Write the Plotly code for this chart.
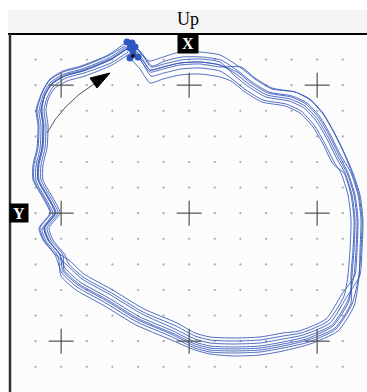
import numpy as np
import plotly.graph_objects as go

# Arena coordinates (px-like units from the top-left corner of the arena, y downward)
loop_a_x = [117,128,139,153,170,190,210,231,245,262,285,300,313,323,333,342,349,352,351,349,342,326,299,273,250,223,200,185,160,127,94,67,52,45,33,29,40,33,23,23,27,28,26,33,40,53,71,98,114]
loop_a_y = [8,16,27,23,18,18,21,34,45,55,58,66,80,97,117,139,161,186,216,241,270,295,308,314,318,319,318,314,302,288,268,253,239,221,206,194,179,164,146,131,114,91,76,56,45,37,32,21,10]

loop_b_x = [122,131,142,155,172,192,211,228,242,259,282,297,310,320,330,341,348,351,350,349,344,328,300,273,250,223,200,185,159,126,93,66,51,48,36,32,43,36,26,26,30,31,29,34,41,54,72,99,116]
loop_b_y = [9,18,32,27,23,23,26,37,48,58,62,69,83,100,120,139,161,186,216,243,272,297,310,317,321,322,320,316,305,291,271,256,242,222,207,195,180,165,147,132,115,92,77,59,48,40,35,24,13]

loop_c_x = [125,133,141,154,171,190,210,225,239,256,279,294,307,317,327,335,342,345,344,342,339,323,296,273,250,223,200,185,162,129,96,69,54,53,41,37,48,41,31,31,35,36,34,37,43,56,74,101,118]
loop_c_y = [13,22,33,30,26,25,28,42,53,63,67,74,88,105,125,139,161,186,216,241,267,292,305,310,314,315,314,310,299,285,265,250,236,221,206,194,179,164,146,131,114,91,76,64,53,44,39,29,18]

loop_d_x = [120,129,140,153,170,190,210,231,245,262,285,300,313,323,333,343,350,353,352,350,336,320,293,273,250,223,200,185,165,132,99,72,57,46,34,30,41,34,24,24,28,29,27,33,40,53,71,98,115]
loop_d_y = [14,24,38,35,31,30,33,33,44,54,58,65,79,96,116,139,161,186,216,241,264,289,301,305,309,310,309,305,295,280,260,245,231,221,206,194,179,164,146,131,114,91,76,57,46,38,33,22,12]

loop_e_x = [123,132,141,154,171,190,210,222,236,253,276,291,304,314,324,331,338,341,340,338,334,318,291,273,250,223,200,185,166,133,100,73,58,55,43,39,50,43,33,33,37,38,36,38,44,57,75,102,119]
loop_e_y = [19,28,42,39,35,34,37,45,56,66,70,77,91,108,128,139,161,186,216,241,262,287,299,302,306,307,306,302,292,278,258,243,229,221,206,194,179,164,146,131,114,91,76,66,55,47,42,31,20]

loop_f_x = [120,130,140,153,170,190,210,221,235,252,275,290,303,313,323,334,341,344,343,341,341,325,298,273,250,223,200,185,161,128,95,68,53,50,38,34,45,38,28,28,32,33,31,35,42,55,73,100,117]
loop_f_y = [24,35,49,45,41,40,43,47,58,68,72,79,93,110,130,139,161,186,216,241,269,294,306,312,316,317,316,312,300,286,266,251,237,221,206,194,179,164,146,131,114,91,76,61,50,42,37,26,15]

loop_g_x = [128,134,140,153,170,190,210,227,241,258,281,296,309,319,329,338,345,348,347,345,332,316,289,273,250,223,200,185,167,134,101,74,59,51,39,35,46,39,29,29,33,34,32,35,42,55,73,100,117]
loop_g_y = [23,28,36,33,29,28,31,38,49,59,63,70,84,101,121,139,161,186,216,241,260,285,297,299,303,304,303,299,289,275,255,240,226,221,206,194,179,164,146,131,114,91,76,60,49,41,36,25,14]

loop_h_x = [120,130,140,153,170,190,210,226,240,257,280,295,308,318,328,337,344,347,346,344,338,322,295,273,250,223,200,185,163,130,97,70,55,50,38,34,45,38,28,28,32,33,31,35,42,55,73,100,117]
loop_h_y = [12,21,36,33,29,28,31,40,51,61,65,72,86,103,123,139,161,186,216,241,266,291,303,308,312,313,312,308,297,283,263,248,234,221,206,194,179,164,146,131,114,91,76,61,50,42,37,26,15]

loops = [(loop_a_x, loop_a_y), (loop_b_x, loop_b_y), (loop_c_x, loop_c_y), (loop_d_x, loop_d_y),
         (loop_e_x, loop_e_y), (loop_f_x, loop_f_y), (loop_g_x, loop_g_y), (loop_h_x, loop_h_y)]

start_x = [117, 122, 125, 120, 123, 120, 128]
start_y = [8, 9, 13, 14, 19, 24, 23]
end_x = [123]
end_y = [22]

ARENA_W, ARENA_H = 357, 358
GRID = 25.6
LINE_COLOR = "rgba(50,85,185,0.85)"

fig = go.Figure()

# dot grid
gx, gy = np.meshgrid(np.arange(1, 14) * GRID, np.arange(1, 14) * GRID)
fig.add_trace(go.Scatter(x=gx.ravel(), y=gy.ravel(), mode="markers",
                         marker=dict(size=2.2, color="#a8a8a8"), hoverinfo="skip", showlegend=False))

shapes = []
# crosses
for cx in (2, 7, 12):
    for cy in (2, 7, 12):
        X, Y = cx * GRID, cy * GRID
        shapes.append(dict(type="line", xref="x", yref="y", x0=X - 12.5, x1=X + 12.5, y0=Y, y1=Y,
                           line=dict(color="rgba(90,90,90,0.8)", width=1.6)))
        shapes.append(dict(type="line", xref="x", yref="y", x0=X, x1=X, y0=Y - 12.5, y1=Y + 12.5,
                           line=dict(color="rgba(90,90,90,0.8)", width=1.6)))

for lx, ly in loops:
    fig.add_trace(go.Scatter(x=lx, y=ly, mode="lines",
                             line=dict(color=LINE_COLOR, width=1, shape="spline", smoothing=0.6),
                             hoverinfo="skip", showlegend=False))

fig.add_trace(go.Scatter(x=start_x, y=start_y, mode="markers",
                         marker=dict(size=7, color="#2f57c2"), showlegend=False, hoverinfo="skip"))
fig.add_trace(go.Scatter(x=end_x, y=end_y, mode="markers",
                         marker=dict(size=4, color="#111"), showlegend=False, hoverinfo="skip"))

# arrow
shapes.append(dict(type="path", xref="x", yref="y", path="M 37,99 Q 52,70 84,50",
                   line=dict(color="#555", width=1)))
shapes.append(dict(type="path", xref="x", yref="y", path="M 80,44 L 100,39 L 87,54 Z",
                   fillcolor="black", line=dict(color="black", width=1)))

# header band and borders (paper coords)
hx0 = -2 / ARENA_W
shapes.append(dict(type="rect", xref="paper", yref="paper", x0=hx0, x1=1.01, y0=1, y1=1 + 24 / ARENA_H,
                   fillcolor="#f4f4f4", line=dict(width=0), layer="below"))
shapes.append(dict(type="line", xref="paper", yref="paper", x0=hx0, x1=1.01, y0=1, y1=1,
                   line=dict(color="black", width=2)))
shapes.append(dict(type="line", xref="paper", yref="paper", x0=0, x1=0, y0=-0.01, y1=1,
                   line=dict(color="#333", width=2.5)))

annotations = [
    dict(text="Up", xref="paper", yref="paper", x=(188 - 10) / ARENA_W, y=1 + 15 / ARENA_H,
         xanchor="center", yanchor="middle", showarrow=False,
         font=dict(family="Liberation Serif", size=18, color="black")),
    dict(text="<b>X</b>", xref="x", yref="y", x=178, y=9, xanchor="center", yanchor="middle",
         showarrow=False, bgcolor="black",
         font=dict(family="Liberation Serif", size=16, color="white"), borderpad=1, width=18, height=17),
    dict(text="<b>Y</b>", xref="x", yref="y", x=9, y=179, xanchor="center", yanchor="middle",
         showarrow=False, bgcolor="black",
         font=dict(family="Liberation Serif", size=16, color="white"), borderpad=1, width=16, height=16),
]

fig.update_layout(
    width=367, height=392, margin=dict(l=10, r=0, t=34, b=0),
    paper_bgcolor="white", plot_bgcolor="#fcfcfc",
    xaxis=dict(range=[0, ARENA_W], visible=False, fixedrange=True),
    yaxis=dict(range=[ARENA_H, 0], visible=False, fixedrange=True),
    shapes=shapes, annotations=annotations, showlegend=False,
)

# remove the default 8px page margin so the figure fills the window exactly
fig.write_html("out.html", config={"displayModeBar": False},
               post_script="document.body.style.margin='0';document.body.style.overflow='hidden';")
